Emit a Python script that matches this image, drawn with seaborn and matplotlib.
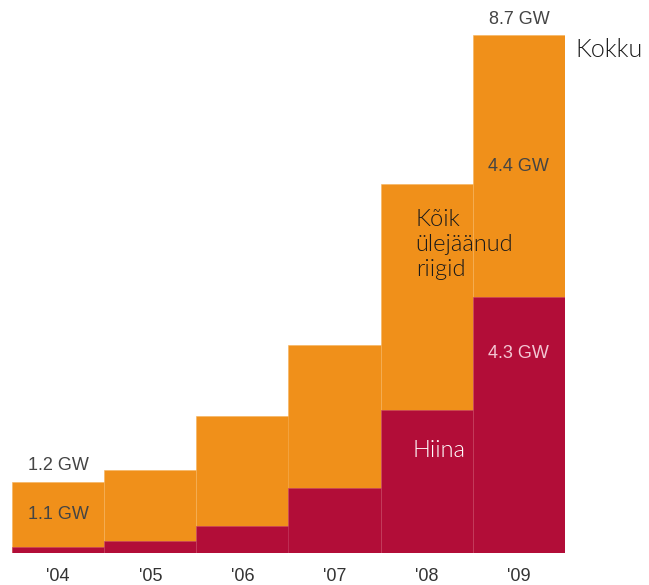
import numpy as np
import seaborn as sns
import matplotlib.pyplot as plt

# values (GW)
years = ["'04", "'05", "'06", "'07", "'08", "'09"]
china = [0.1, 0.2, 0.45, 1.1, 2.4, 4.3]
others = [1.1, 1.2, 1.85, 2.4, 3.8, 4.4]
totals = [c + o for c, o in zip(china, others)]

orange = '#F0901A'
crimson = '#B20D38'

sns.set_style('white')
plt.rcParams['font.family'] = ['Liberation Sans', 'DejaVu Sans']

fig = plt.figure(figsize=(6.49, 5.85), dpi=100)
ax = fig.add_axes([12 / 649, 32 / 585, 553 / 649, 553 / 585])

sns.barplot(x=years, y=totals, color=orange, width=1.0, saturation=1,
            edgecolor='#f6b25a', linewidth=0.4, ax=ax)
sns.barplot(x=years, y=china, color=crimson, width=1.0, saturation=1,
            edgecolor='#c8466a', linewidth=0.4, ax=ax)

ax.set_xlim(-0.5, 5.5)
ax.set_ylim(0, 9.29)
ax.set_yticks([])
ax.set_ylabel('')
sns.despine(ax=ax, left=True, bottom=True)

# ticks at bar boundaries, labels centred under bars
ax.set_xticks(np.arange(-0.5, 6, 1), minor=True)
ax.tick_params(axis='x', which='minor', length=10, width=1, color='#999999', direction='out')
ax.tick_params(axis='x', which='major', length=0, pad=11, labelsize=13, labelcolor='#333333')

grey = '#444444'
ax.text(0, totals[0] + 0.12, f'{totals[0]:.1f} GW', ha='center', va='bottom', fontsize=13, color=grey)
ax.text(0, china[0] + others[0] / 2, f'{others[0]:.1f} GW', ha='center', va='center', fontsize=13, color=grey)
ax.text(5, totals[5] + 0.12, f'{totals[5]:.1f} GW', ha='center', va='bottom', fontsize=13, color=grey)
ax.text(5, china[5] + others[5] / 2, f'{others[5]:.1f} GW', ha='center', va='center', fontsize=13, color=grey)
ax.text(5, china[5] * 0.78, f'{china[5]:.1f} GW', ha='center', va='center', fontsize=13, color='#f3c6d3')

ax.text(3.88, 5.18, 'Kõik\nülejäänud\nriigid', ha='left', va='center', fontsize=17,
        color='#1a1a1a', family='Lato', fontweight=300, linespacing=1.25)
ax.text(3.84, 1.72, 'Hiina', ha='left', va='center', fontsize=17, color='white',
        family='Lato', fontweight=300)
fig.text(575 / 649, 1 - 50 / 585, 'Kokku', ha='left', va='center', fontsize=18,
         color='#1a1a1a', family='Lato', fontweight=300)

fig.savefig('out.png', dpi=100)
